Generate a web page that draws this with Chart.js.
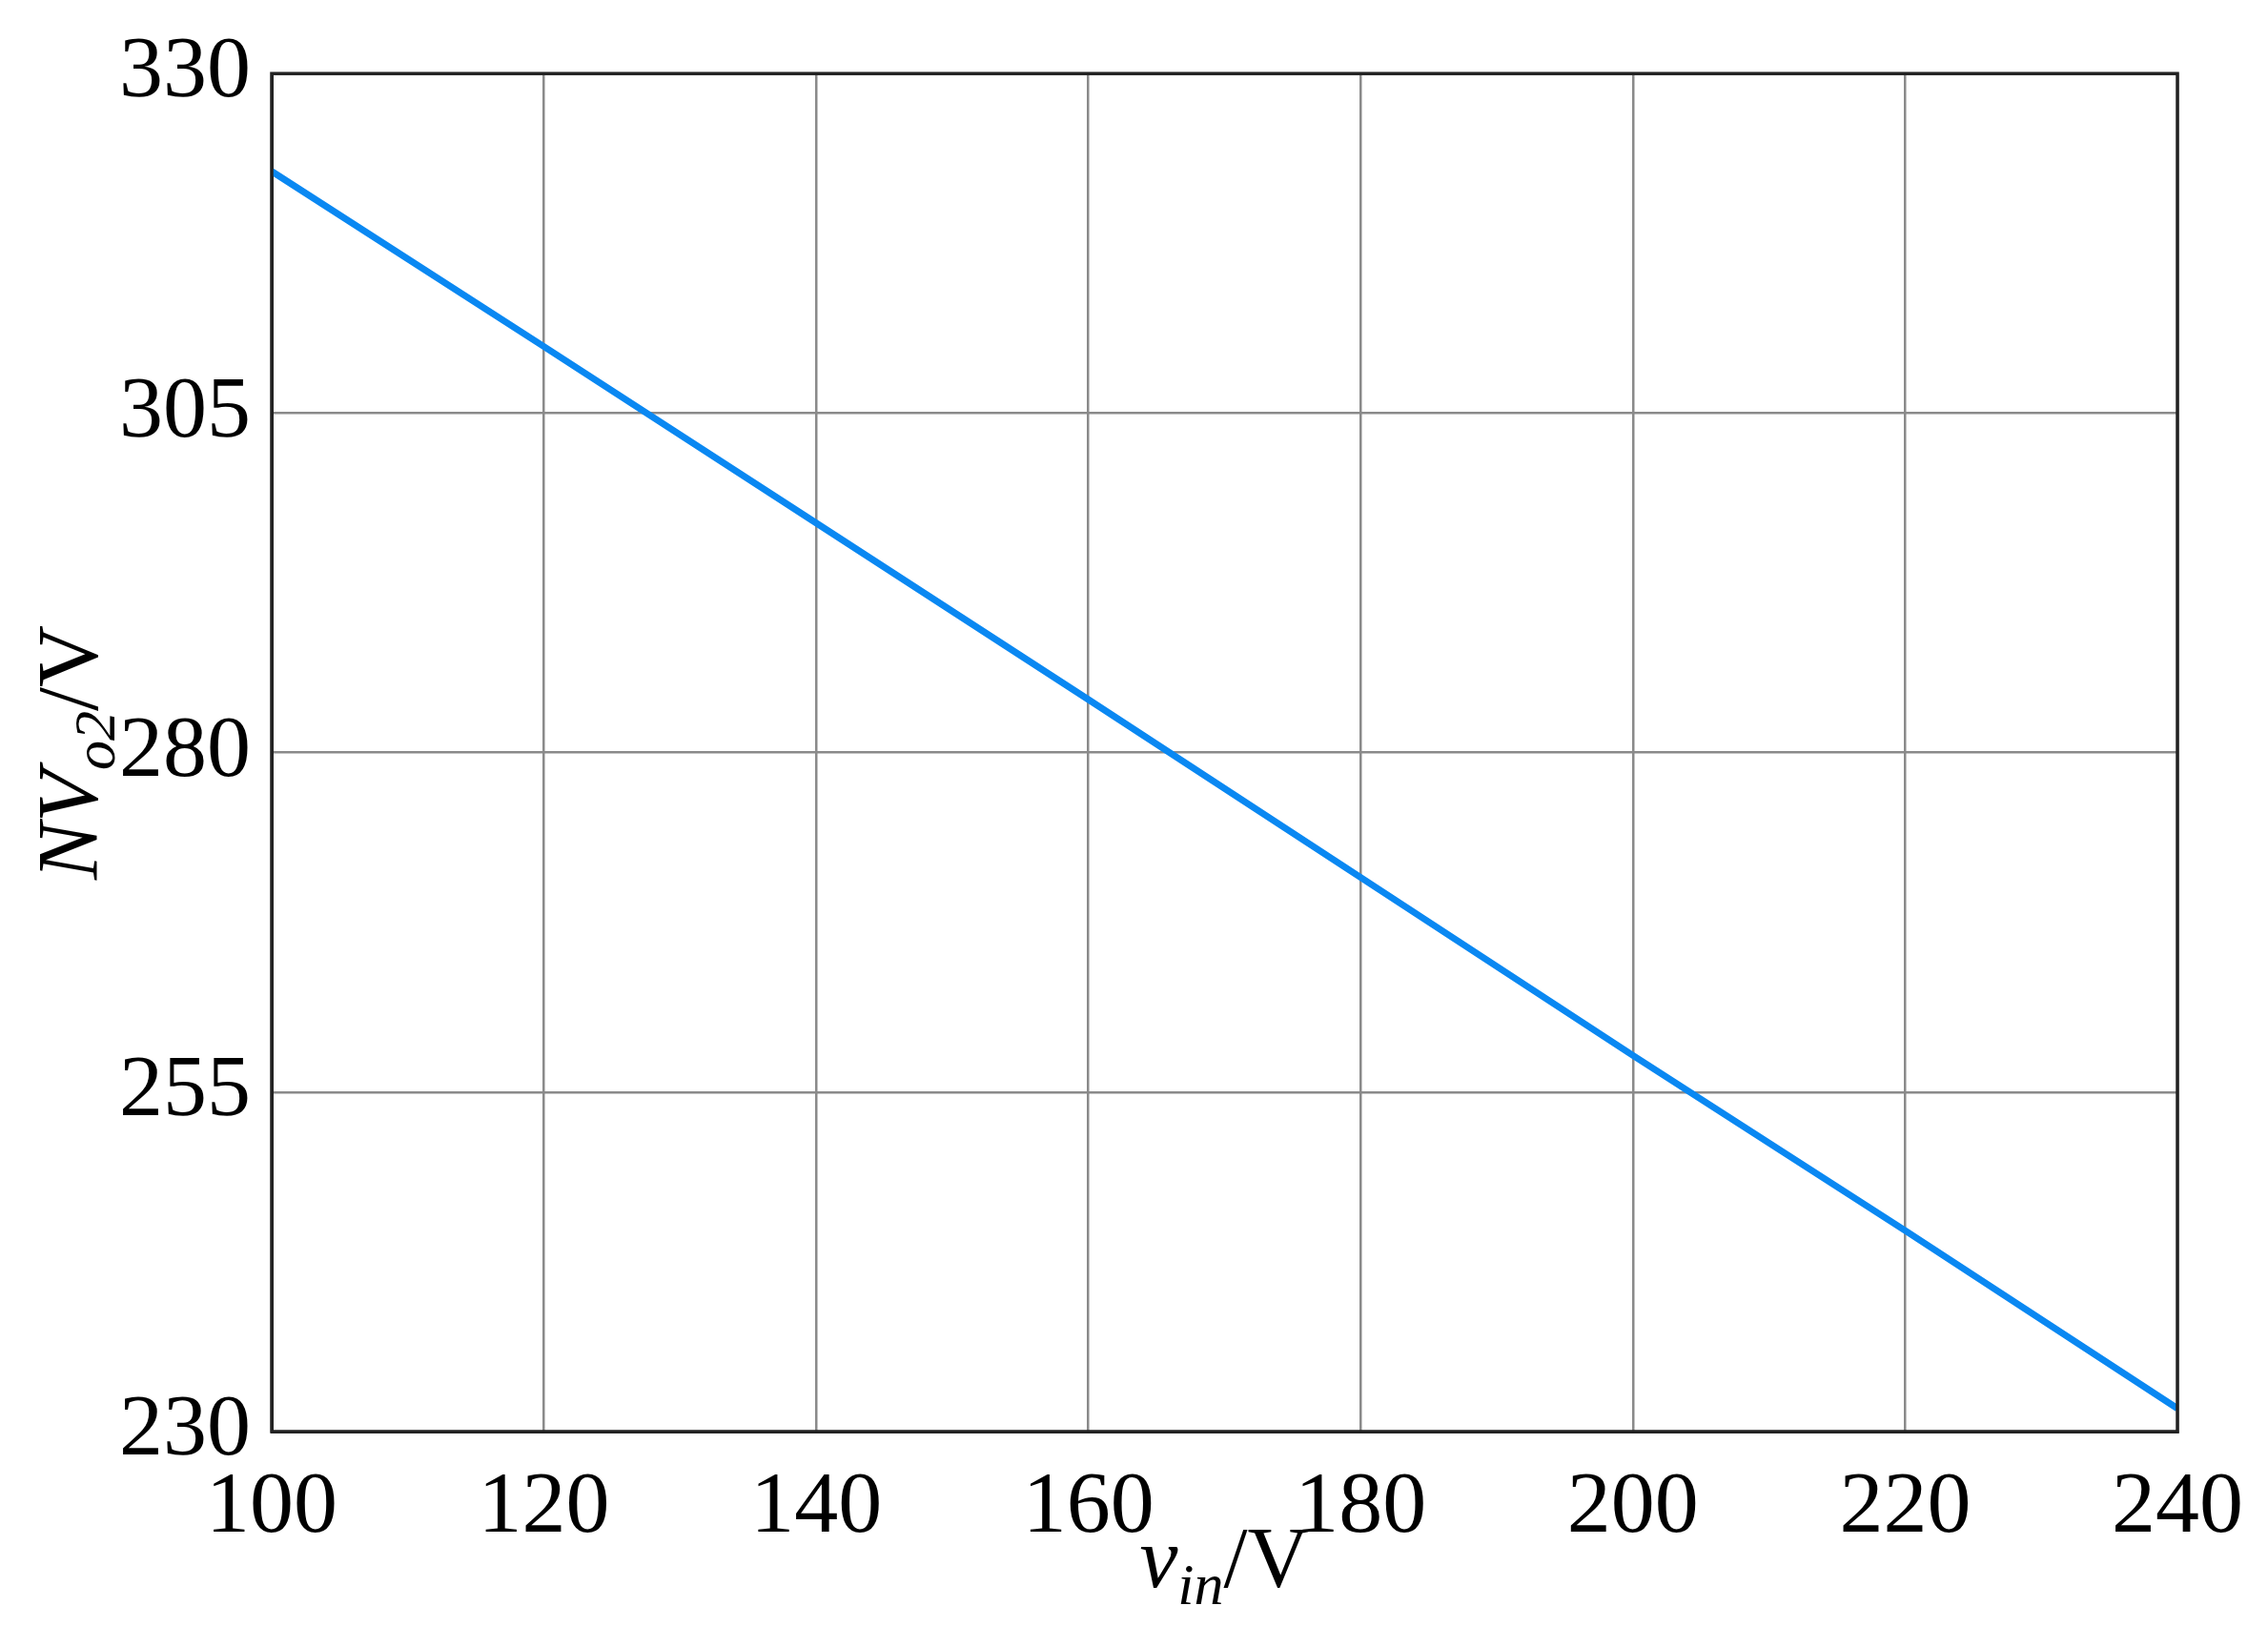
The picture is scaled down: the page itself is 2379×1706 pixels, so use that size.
<!DOCTYPE html>
<html><head><meta charset="utf-8">
<script src="https://cdn.jsdelivr.net/npm/chart.js@4"></script>
<style>html,body{margin:0;padding:0;background:#fff}#w{width:2379px;height:1706px}</style>
</head><body><div id="w"><canvas id="c"></canvas></div>
<script>
const vin = [100, 120, 140, 160, 180, 200, 220, 240];
const nvo2 = [322.8, 309.9, 296.9, 283.9, 270.8, 257.7, 244.8, 231.7];
const xTicks = [100, 120, 140, 160, 180, 200, 220, 240];
const yTicks = [230, 255, 280, 305, 330];

const titles = {
  id: 'titles',
  afterDraw(chart) {
    const ctx = chart.ctx, ca = chart.chartArea;
    ctx.save();
    ctx.fillStyle = '#000';
    ctx.textBaseline = 'alphabetic';
    const big = '90px "Liberation Serif"', bigI = 'italic 90px "Liberation Serif"', subI = 'italic 62px "Liberation Serif"';
    const xParts = [['v', bigI, 0], ['in', subI, 18], ['/V', big, 0]];
    let w = 0;
    xParts.forEach(p => { ctx.font = p[1]; w += ctx.measureText(p[0]).width; });
    let x = (ca.left + ca.right) / 2 - w / 2, y = 1665;
    xParts.forEach(p => { ctx.font = p[1]; ctx.fillText(p[0], x, y + p[2]); x += ctx.measureText(p[0]).width; });
    ctx.translate(102, (ca.top + ca.bottom) / 2);
    ctx.rotate(-Math.PI / 2);
    const yParts = [['NV', bigI, 0], ['o2', subI, 18], ['/V', big, 0]];
    w = 0;
    yParts.forEach(p => { ctx.font = p[1]; w += ctx.measureText(p[0]).width; });
    x = -w / 2;
    yParts.forEach(p => { ctx.font = p[1]; ctx.fillText(p[0], x, p[2]); x += ctx.measureText(p[0]).width; });
    ctx.restore();
  }
};

new Chart(document.getElementById('c'), {
  type: 'line',
  data: { datasets: [{ data: vin.map((v, i) => ({ x: v, y: nvo2[i] })), borderColor: '#0a88f2', borderWidth: 7, pointRadius: 0, tension: 0 }] },
  options: {
    responsive: true, maintainAspectRatio: false, animation: false,
    layout: { padding: { left: 0, top: 65, right: 82, bottom: 0 } },
    plugins: { legend: { display: false }, tooltip: { enabled: false } },
    scales: {
      x: {
        type: 'linear', min: 100, max: 240,
        afterBuildTicks: a => { a.ticks = xTicks.map(v => ({ value: v })); },
        afterFit: a => { a.height = 204; },
        grid: { color: '#8a8a8a', lineWidth: 2.5, drawTicks: false },
        border: { color: '#222', width: 3 },
        ticks: { color: '#000', padding: 26, font: { family: 'Liberation Serif', size: 92 }, maxRotation: 0 }
      },
      y: {
        min: 230, max: 330,
        afterBuildTicks: a => { a.ticks = yTicks.map(v => ({ value: v })); },
        afterFit: a => { a.width = 285; },
        grid: { color: '#8a8a8a', lineWidth: 2.5, drawTicks: false },
        border: { color: '#222', width: 3 },
        ticks: { color: '#000', padding: 22, font: { family: 'Liberation Serif', size: 92 } }
      }
    }
  },
  plugins: [titles, {
    id: 'frame', afterDraw(chart) {
      const c = chart.ctx, a = chart.chartArea;
      c.save(); c.strokeStyle = '#222'; c.lineWidth = 3.5; c.strokeRect(a.left, a.top, a.right - a.left, a.bottom - a.top); c.restore();
    }
  }]
});
</script></body></html>
